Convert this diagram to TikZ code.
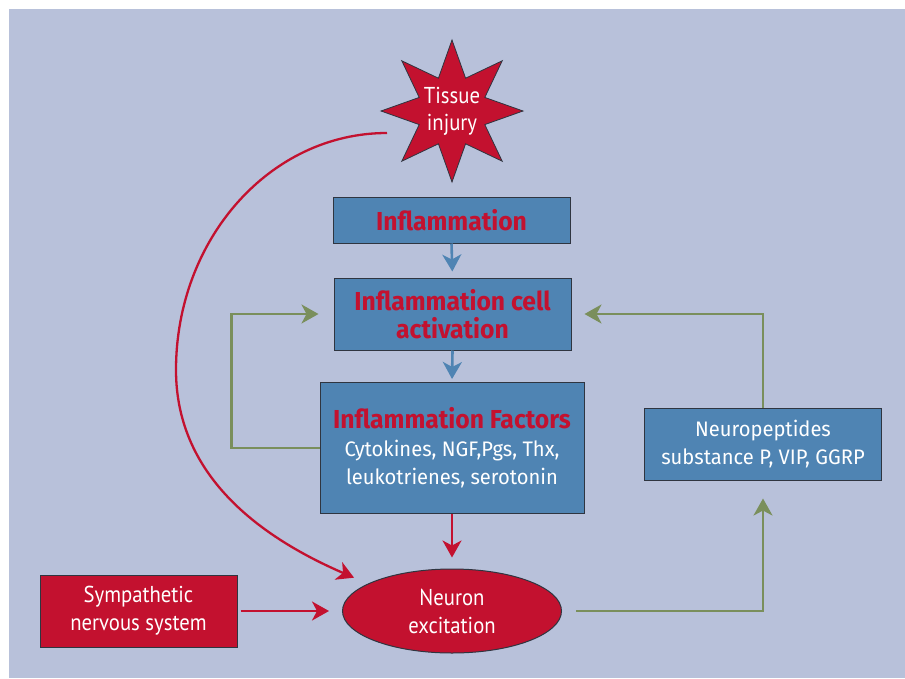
\documentclass[tikz,border=0pt]{standalone}
\usepackage{fontspec}
\setmainfont{Fira Sans}
\newfontfamily\boxfont{Fira Sans}[FakeStretch=0.96]
\newfontfamily\titfont{Fira Sans}[FakeStretch=0.95]
\newfontfamily\condfont{PT Sans}[FakeStretch=0.9]
\usetikzlibrary{shapes.geometric,arrows.meta}
\definecolor{bgc}{HTML}{B8C1DA}
\definecolor{boxblue}{HTML}{4F84B3}
\definecolor{redc}{HTML}{C3112F}
\definecolor{greenc}{HTML}{7A8F5C}
\definecolor{edgec}{HTML}{2F3540}
\newcommand\mytitle[1]{{\titfont\bfseries\fontsize{26}{28}\selectfont\color{redc}#1}}
\begin{document}
\begin{tikzpicture}[x=1pt,y=-1pt,
  bluebox/.style={rectangle, draw=edgec, line width=1pt, fill=boxblue, inner sep=0pt,
    align=center, text=white, font=\boxfont\fontsize{21}{28}\selectfont},
  redbox/.style={rectangle, draw=edgec, line width=1pt, fill=redc, inner sep=0pt,
    align=center, text=white, font=\condfont\fontsize{23}{28}\selectfont},
  starshape/.style={star, star points=8, star point ratio=2, minimum size=142pt,
    inner sep=0pt, fill=redc, draw=edgec, line width=0.8pt},
  wtext/.style={align=center, text=white, font=\condfont\fontsize{23}{27}\selectfont},
  arr/.style={-{Stealth[length=17pt,width=19pt,inset=5pt]}, line width=2.6pt},
  redarr/.style={arr, draw=redc, line width=2.3pt},
  bluearr/.style={arr, draw=boxblue},
  greenarr/.style={arr, draw=greenc},
]
\useasboundingbox (0,0) rectangle (905,678);
\fill[bgc] (9,9) rectangle (905,678);

% nodes
\node[starshape] (star) at (452,111) {};
\node[wtext] (startext) at (star.center) {Tissue\\injury};
\node[bluebox, minimum width=237pt, minimum height=46pt] (infl) at (451.5,220) {\mytitle{Inflammation}};
\node[bluebox, minimum width=237pt, minimum height=72pt] (cell) at (452.5,314)
  {\mytitle{Inflammation cell}\\\mytitle{activation}};
\node[bluebox, minimum width=264pt, minimum height=131pt] (fact) at (452,448)
  {\mytitle{Inflammation Factors}\\Cytokines, NGF,Pgs, Thx,\\leukotrienes, serotonin};
\node[bluebox, minimum width=237pt, minimum height=72pt] (neuro) at (763,444)
  {Neuropeptides\\substance P, VIP, GGRP};
\node[redbox, minimum width=197pt, minimum height=72pt] (symp) at (138.5,611)
  {Sympathetic\\nervous system};
\node[ellipse, draw=edgec, line width=1pt, fill=redc, inner sep=0pt,
  minimum width=219pt, minimum height=84pt, align=center, text=white,
  font=\condfont\fontsize{23}{28}\selectfont] (neuron) at (452,611) {Neuron\\excitation};

\coordinate (cs) at (387,133);

% connectors
\draw[bluearr, shorten >=6pt] (infl.south) -- (cell.north);
\draw[bluearr, shorten >=3pt] (cell.south) -- (fact.north);
\draw[redarr, shorten >=11pt] (fact.south) -- (neuron.north);
\draw[redarr, shorten <=3pt, shorten >=13pt] (symp.east) -- (neuron.west);
\draw[redarr, shorten >=15pt] (cs) .. controls (270,133) and (176,239) .. (176,370)
  .. controls (176,480) and (267,540) .. (neuron.162);
\draw[greenarr, shorten >=15pt] (fact.west) -- ++(-88,0) |- (cell.west);
\draw[greenarr, shorten <=14pt, shorten >=18pt] (neuron.east) -| (neuro.south);
\draw[greenarr, shorten >=13pt] (neuro.north) |- (cell.east);
\end{tikzpicture}
\end{document}
